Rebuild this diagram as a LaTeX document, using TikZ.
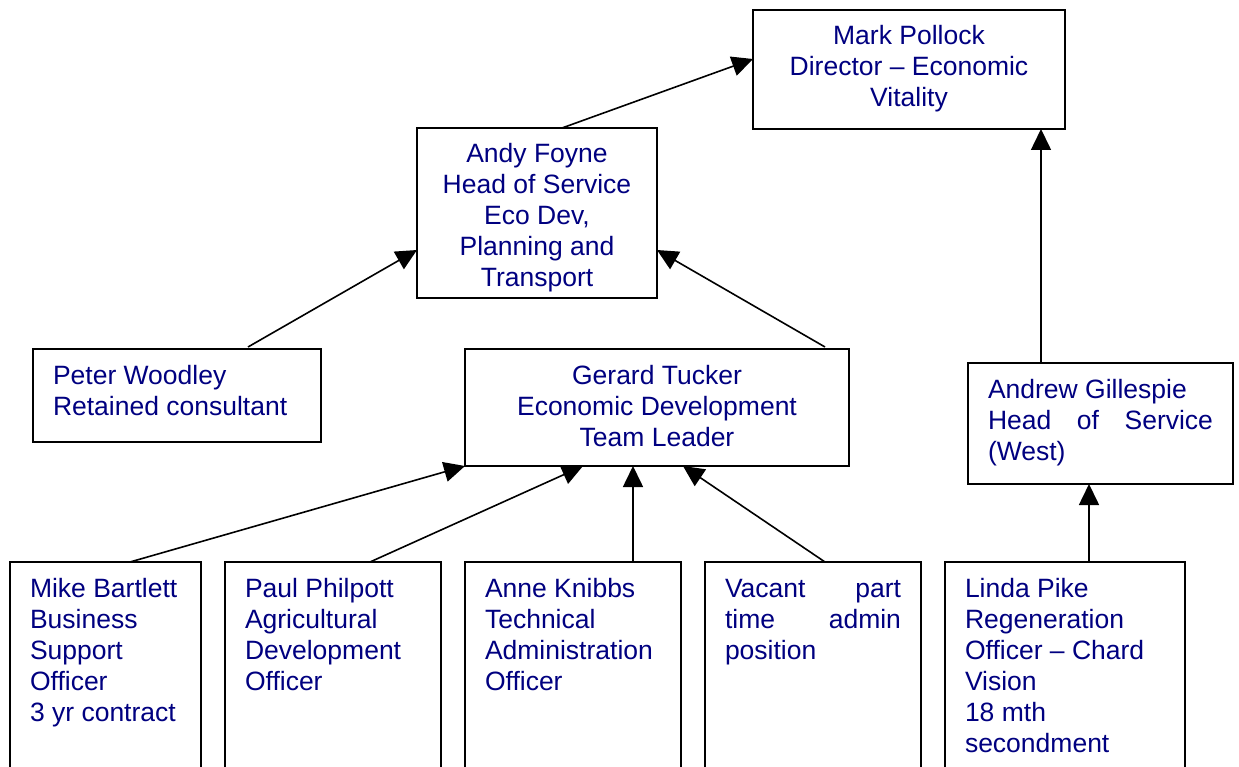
\documentclass[tikz,border=0pt]{standalone}
\usepackage{fontspec}
\setmainfont{Liberation Sans}
\usepackage{xcolor}
\usetikzlibrary{arrows.meta}
\definecolor{navy}{RGB}{0,0,128}
\hyphenpenalty=10000
\newcommand{\wordgap}{\hspace{0pt plus 1filll}}

\begin{document}
\begin{tikzpicture}[x=1pt, y=-1pt,
    post/.style={draw, line width=2pt, outer sep=0pt, inner xsep=20pt, inner ysep=0pt,
      anchor=north west, text=navy, text height=35pt,
      font=\fontsize{26.5pt}{31pt}\selectfont},
    report/.style={-{Triangle[length=21pt, width=20pt]}, line width=1.6pt}]
    \useasboundingbox (0, 0) rectangle (1239, 767);

    % Top
    \node[post, align=flush center, text width=272pt, text depth=84pt] (mark) at (753, 10)
      {Mark Pollock\\Director -- Economic\\Vitality};
    \node[post, align=flush center, text width=200pt, text depth=135pt] (andy) at (417, 128)
      {Andy Foyne\\Head of Service\\Eco Dev,\\Planning and\\Transport};

    % Middle
    \node[post, align=flush left, text width=248pt, text depth=58pt] (peter) at (33, 349)
      {Peter Woodley\\Retained consultant};
    \node[post, align=flush center, text width=344pt, text depth=82pt] (gerard) at (465, 349)
      {Gerard Tucker\\Economic Development\\Team Leader};
    \node[post, align=flush left, text width=225pt, text depth=86pt] (gillespie) at (968, 363)
      {Andrew Gillespie\\Head\wordgap of\wordgap Service\\(West)};

    % Bottom
    \node[post, align=flush left, text width=151pt, text depth=195pt] (mike) at (10, 562)
      {Mike Bartlett\\Business\\Support\\Officer\\3 yr contract};
    \node[post, align=flush left, text width=176pt, text depth=195pt] (paul) at (225, 562)
      {Paul Philpott\\Agricultural\\Development\\Officer};
    \node[post, align=flush left, text width=176pt, text depth=195pt] (anne) at (465, 562)
      {Anne Knibbs\\Technical\\Administration\\Officer};
    \node[post, align=flush left, text width=176pt, text depth=195pt] (vacant) at (705, 562)
      {Vacant\wordgap part\\time\wordgap admin\\position};
    \node[post, align=flush left, text width=200pt, text depth=195pt] (linda) at (945, 562)
      {Linda Pike\\Regeneration\\Officer -- Chard\\Vision\\18 mth\\secondment};

    % Reporting lines
    \draw[report] ([xshift=145pt]andy.north west) -- ([yshift=-49pt]mark.north west);
    \draw[report] ([xshift=73pt]gillespie.north west) -- ([xshift=288pt]mark.south west);
    \draw[report] ([xshift=215pt, yshift=2pt]peter.north west) -- ([yshift=-122pt]andy.north west);
    \draw[report] ([xshift=360pt, yshift=2pt]gerard.north west) -- ([yshift=-122pt]andy.north east);
    \draw[report] ([xshift=120pt]mike.north west) -- (gerard.south west);
    \draw[report] ([xshift=145pt]paul.north west) -- ([xshift=118pt]gerard.south west);
    \draw[report] ([xshift=168pt]anne.north west) -- ([xshift=168pt]gerard.south west);
    \draw[report] ([xshift=120pt]vacant.north west) -- ([xshift=218pt]gerard.south west);
    \draw[report] ([xshift=144pt]linda.north west) -- ([xshift=121pt]gillespie.south west);
\end{tikzpicture}
\end{document}
